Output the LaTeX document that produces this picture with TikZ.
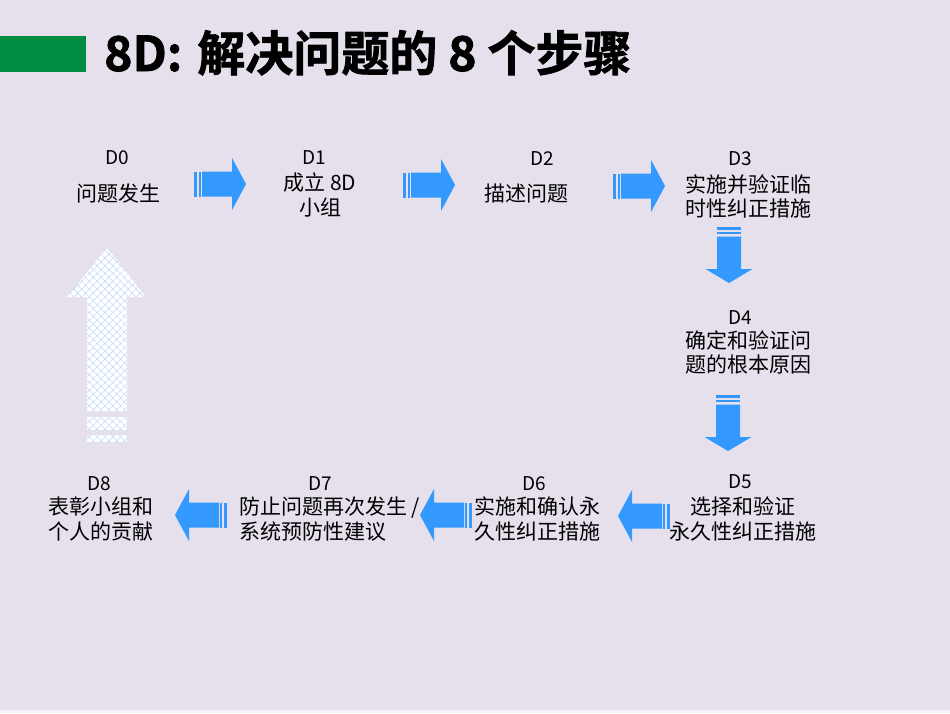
\documentclass[tikz,border=0pt]{standalone}
\usepackage{fontspec}
\newfontfamily\cjk{Noto Sans CJK SC}[BoldFont={Noto Sans CJK SC Bold}]
\newfontfamily\titlefont{Noto Sans CJK SC Bold}[FakeBold=1.6]
\usetikzlibrary{patterns.meta}
\definecolor{bgc}{RGB}{229,224,236}
\definecolor{titlegreen}{RGB}{0,140,64}
\definecolor{arrowblue}{RGB}{51,153,255}
\definecolor{hatchblue}{RGB}{190,215,245}
\tikzset{
  steptext/.style={font=\cjk\fontsize{21}{24.5}\selectfont, align=center, inner sep=0pt, text=black},
  steplabel/.style={font=\cjk\fontsize{19}{22}\selectfont, inner sep=0pt, text=black},
  pics/blockarrow/.style={code={
    \fill[arrowblue] (0,-12.5) rectangle (3,12.5);
    \fill[arrowblue] (5,-12.5) rectangle (7,12.5);
    \fill[arrowblue] (8,-12.5) -- (38,-12.5) -- (38,-26) -- (52,0) -- (38,26) -- (38,12.5) -- (8,12.5) -- cycle;
  }},
  pics/downarrow/.style={code={
    \fill[arrowblue] (-12,0) rectangle (12,2.5);
    \fill[arrowblue] (-12,5) rectangle (12,7);
    \fill[arrowblue] (-12,9.5) -- (-12,42) -- (-23.5,42) -- (0,56) -- (23.5,42) -- (12,42) -- (12,9.5) -- cycle;
  }}
}
\begin{document}
\begin{tikzpicture}[x=1pt,y=-1pt]
\fill[bgc] (0,0) rectangle (950,713);
\useasboundingbox (0,0) rectangle (950,713);
\fill[white!60!bgc] (0,710) rectangle (950,713);
% title
\fill[titlegreen] (0,36) rectangle (86,72);
\node[anchor=base west, inner sep=0pt, font=\titlefont\fontsize{48}{50}\selectfont] (title) at (104,71) {8D:\hspace{15pt}解决问题的 8 个步骤};

% step labels and texts
\node[steplabel] (l0) at (117,158) {D0};
\node[steptext] (t0) at (118,194) {问题发生};
\node[steplabel] (l1) at (314,158) {D1};
\node[steptext] (t1) at (320,195) {成立 8D\\小组};
\node[steplabel] (l2) at (542,159) {D2};
\node[steptext] (t2) at (526,194) {描述问题};
\node[steplabel] (l3) at (740,159) {D3};
\node[steptext] (t3) at (748,196.5) {实施并验证临\\时性纠正措施};
\node[steplabel] (l4) at (740,318) {D4};
\node[steptext] (t4) at (748,352.5) {确定和验证问\\题的根本原因};
\node[steplabel] (l5) at (740,482) {D5};
\node[steptext] (t5) at (743,519) {选择和验证\\永久性纠正措施};
\node[steplabel] (l6) at (534,484) {D6};
\node[steptext] (t6) at (537,519) {实施和确认永\\久性纠正措施};
\node[steplabel] (l7) at (320,484) {D7};
\node[steptext, anchor=west, align=left] (t7) at (239,519) {防止问题再次发生 /\\系统预防性建议};
\node[steplabel] (l8) at (99,484) {D8};
\node[steptext] (t8) at (101,519) {表彰小组和\\个人的贡献};

% blue arrows
\pic at (194,184) {blockarrow};
\pic at (403,185) {blockarrow};
\pic at (613,186) {blockarrow};
\pic at (729,227) {downarrow};
\pic at (728,395) {downarrow};
\pic[rotate=180] at (670,516) {blockarrow};
\pic[rotate=180] at (472,515) {blockarrow};
\pic[rotate=180] at (227,515) {blockarrow};

% big hatched up arrow
\def\uparrowpath{(107,248) -- (146,297) -- (127,297) -- (127,411) -- (87,411) -- (87,297) -- (67,297) -- cycle}
\fill[white] \uparrowpath;
\fill[white] (87,417) rectangle (127,430);
\fill[white] (87,435) rectangle (127,442);
\fill[pattern={Lines[angle=45,distance=5.5pt,line width=0.5pt]}, pattern color=hatchblue] \uparrowpath;
\fill[pattern={Lines[angle=-45,distance=5.5pt,line width=0.5pt]}, pattern color=hatchblue] \uparrowpath;
\fill[pattern={Lines[angle=45,distance=5.5pt,line width=0.5pt]}, pattern color=hatchblue] (87,417) rectangle (127,430);
\fill[pattern={Lines[angle=-45,distance=5.5pt,line width=0.5pt]}, pattern color=hatchblue] (87,417) rectangle (127,430);
\fill[pattern={Lines[angle=45,distance=5.5pt,line width=0.5pt]}, pattern color=hatchblue] (87,435) rectangle (127,442);
\fill[pattern={Lines[angle=-45,distance=5.5pt,line width=0.5pt]}, pattern color=hatchblue] (87,435) rectangle (127,442);
\end{tikzpicture}
\end{document}
